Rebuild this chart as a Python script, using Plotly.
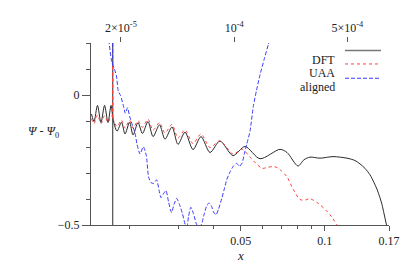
import plotly.graph_objects as go

# ---------------- data ----------------
# DFT (black solid)
dft_left_x = [0.01459, 0.01490, 0.01533, 0.01578, 0.01625, 0.01672, 0.01714, 0.01739]
dft_left_y = [-0.073, -0.102, -0.040, -0.106, -0.040, -0.106, -0.040, -0.088]
dft_jump_x = [0.01739, 0.01739]
dft_jump_y = [0.30, -0.60]
dft_x = [0.01739, 0.01801, 0.01869, 0.01924, 0.01998, 0.02056, 0.02142, 0.02222, 0.02326, 0.02425,
         0.02558, 0.02676, 0.02836, 0.02979, 0.03157, 0.03373, 0.03603, 0.03880, 0.04214, 0.04691,
         0.05180, 0.05862, 0.06914, 0.07325, 0.08020, 0.08427, 0.08856, 0.09617, 0.1071, 0.1202,
         0.1284, 0.1338, 0.1394, 0.1453, 0.1502, 0.1539, 0.1578, 0.1604, 0.1632, 0.1666]
dft_y = [-0.088, -0.139, -0.105, -0.150, -0.105, -0.154, -0.106, -0.148, -0.102, -0.160,
         -0.115, -0.170, -0.123, -0.190, -0.143, -0.210, -0.160, -0.221, -0.177, -0.233,
         -0.198, -0.245, -0.209, -0.221, -0.273, -0.249, -0.239, -0.243, -0.237, -0.243,
         -0.252, -0.265, -0.282, -0.307, -0.337, -0.362, -0.395, -0.421, -0.457, -0.501]

# UAA (red dotted)
uaa_left_x = [0.01459, 0.01490, 0.01533, 0.01578, 0.01625, 0.01672, 0.01714, 0.01739]
uaa_left_y = [-0.091, -0.110, -0.077, -0.110, -0.080, -0.106, -0.080, -0.085]
uaa_jump_x = [0.01739, 0.01739, 0.01739]
uaa_jump_y = [-0.085, 0.115, -0.088]
uaa_x = [0.01739, 0.01801, 0.01869, 0.01924, 0.01998, 0.02056, 0.02142, 0.02222, 0.02326, 0.02425,
         0.02558, 0.02676, 0.02836, 0.02979, 0.03157, 0.03373, 0.03603, 0.03880, 0.04214, 0.04691,
         0.05053, 0.05398, 0.05672, 0.05960, 0.06261, 0.06579, 0.06857, 0.07325, 0.07696, 0.08154,
         0.08497, 0.08856, 0.09459, 0.1016, 0.1061, 0.1107]
uaa_y = [-0.088, -0.121, -0.097, -0.128, -0.097, -0.128, -0.099, -0.124, -0.093, -0.135,
         -0.106, -0.146, -0.113, -0.165, -0.134, -0.187, -0.150, -0.202, -0.176, -0.227,
         -0.209, -0.239, -0.263, -0.282, -0.278, -0.275, -0.284, -0.315, -0.361, -0.402,
         -0.404, -0.399, -0.416, -0.446, -0.470, -0.501]

# aligned (blue dashed)
aln_jump_x = [0.01739, 0.01739]
aln_jump_y = [0.115, 0.30]
aln_x = [0.01683, 0.01724, 0.01764, 0.01793, 0.01820, 0.01854, 0.01897, 0.01929, 0.01964, 0.01998,
         0.02056, 0.02090, 0.02125, 0.02178, 0.02238, 0.02295, 0.02336, 0.02385, 0.02435, 0.02496,
         0.02548, 0.02590, 0.02643, 0.02698, 0.02755, 0.02824, 0.02883, 0.02948, 0.03016, 0.03092,
         0.03170, 0.03210, 0.03249, 0.03312, 0.03387, 0.03472, 0.03544, 0.03618, 0.03692, 0.03770,
         0.03848, 0.03929, 0.03994, 0.04078, 0.04162, 0.04273, 0.04374, 0.04454, 0.04577, 0.04703,
         0.04836, 0.04949, 0.05053, 0.05159, 0.05253, 0.05398, 0.05547, 0.05695, 0.05862, 0.06059,
         0.06277, 0.06355]
aln_y = [0.212, 0.128, 0.099, 0.073, 0.015, -0.002, -0.040, -0.070, -0.049, -0.081,
         -0.124, -0.146, -0.190, -0.227, -0.199, -0.234, -0.315, -0.337, -0.340, -0.326,
         -0.366, -0.395, -0.380, -0.368, -0.410, -0.452, -0.421, -0.398, -0.421, -0.457,
         -0.501, -0.505, -0.468, -0.432, -0.457, -0.497, -0.508, -0.497, -0.461, -0.428,
         -0.415, -0.428, -0.450, -0.461, -0.439, -0.399, -0.358, -0.326, -0.296, -0.274,
         -0.263, -0.274, -0.263, -0.223, -0.190, -0.139, -0.044, 0.018, 0.077, 0.135,
         0.194, 0.216]

# axes ticks
x_major = [0.05, 0.1, 0.17]
x_major_text = ["0.05", "0.1", "0.17"]
x_minor = [0.02, 0.03, 0.04, 0.06, 0.07, 0.08, 0.09]
y_major = [0, -0.5]
y_major_text = ["0", "\u22120.5"]
y_minor = [0.2, 0.1, -0.1, -0.2, -0.3, -0.4]
top_ticks = [2e-5, 1e-4, 5e-4]
top_text = ["2\u00d710<sup>-5</sup>", "10<sup>-4</sup>", "5\u00d710<sup>-4</sup>"]

series_names = ["DFT", "UAA", "aligned"]

# ---------------- styles ----------------
C_DFT = "#2b2b2b"
C_UAA = "#ff4040"
C_ALN = "#3a3aff"
FONT = "Liberation Serif, Times New Roman, serif"
FS = 12
AX = "#555555"

# the page body has an 8px margin; plot area should be at x 91..389, y 34..225
W, H = 407, 269
ML, MR, MT, MB = 83, 26, 26, 52
PX0, PY0 = 8 + ML, 8 + MT          # plot-area origin in page pixels
PW, PH = W - ML - MR, H - MT - MB


def px(xp):
    return (xp - PX0) / PW


def py(yp):
    return (PY0 + PH - yp) / PH


fig = go.Figure()


def add(x, y, color, dash, shape="linear", smooth=None, width=1.0):
    line = dict(color=color, width=width, dash=dash, shape=shape)
    if smooth is not None:
        line["smoothing"] = smooth
    fig.add_trace(go.Scatter(x=x, y=y, mode="lines", line=line,
                             showlegend=False, hoverinfo="skip"))


# DFT
add(dft_jump_x, dft_jump_y, C_DFT, "solid")
add(dft_left_x, dft_left_y, C_DFT, "solid", "spline", 0.8)
add(dft_x, dft_y, C_DFT, "solid", "spline", 0.8)
# UAA
add(uaa_left_x, uaa_left_y, C_UAA, "dot", "spline", 0.8)
add(uaa_jump_x, uaa_jump_y, C_UAA, "dot")
add(uaa_x, uaa_y, C_UAA, "dot", "spline", 0.8)
# aligned
add(aln_jump_x, aln_jump_y, C_ALN, "4px,2px")
add(aln_x, aln_y, C_ALN, "4px,2px", "spline", 0.6)

# invisible trace for top axis
fig.add_trace(go.Scatter(x=top_ticks, y=[None] * len(top_ticks), xaxis="x2", mode="lines",
                         showlegend=False, hoverinfo="skip"))

tf = dict(family=FONT, size=FS, color="#222222")
fig.update_layout(
    width=W, height=H,
    margin=dict(l=ML, r=MR, t=MT, b=MB),
    paper_bgcolor="white", plot_bgcolor="white",
    font=tf,
    showlegend=False,
    xaxis=dict(type="log", range=[-1.8377, -0.7696], showgrid=False, zeroline=False,
               showline=True, linecolor=AX, linewidth=1, tickfont=tf,
               tickmode="array", tickvals=x_major, ticktext=x_major_text,
               ticks="outside", ticklen=5, tickcolor=AX, tickwidth=1,
               minor=dict(tickmode="array", tickvals=x_minor, ticks="outside",
                          ticklen=3, tickcolor=AX, tickwidth=1, showgrid=False)),
    xaxis2=dict(type="log", range=[-4.884, -3.044], overlaying="x", side="top", anchor="y",
                showgrid=False, zeroline=False, showline=False, tickfont=tf,
                tickmode="array", tickvals=top_ticks, ticktext=top_text,
                ticks="outside", ticklen=5, tickcolor=AX, tickwidth=1),
    yaxis=dict(range=[-0.5, 0.2], showgrid=False, zeroline=False,
               showline=True, linecolor=AX, linewidth=1, tickfont=tf,
               tickmode="array", tickvals=y_major, ticktext=y_major_text,
               ticks="outside", ticklen=8, tickcolor=AX, tickwidth=1,
               minor=dict(tickmode="array", tickvals=y_minor, ticks="outside",
                          ticklen=4, tickcolor=AX, tickwidth=1, showgrid=False)),
)

# axis titles
fig.add_annotation(xref="paper", yref="paper", x=px(240), y=py(267),
                   text="<i>x</i>", showarrow=False, font=dict(family=FONT, size=13))
fig.add_annotation(xref="paper", yref="paper", x=px(26), y=py(127),
                   text="<i>\u03a8</i> - <i>\u03a8</i><sub>0</sub>", showarrow=False,
                   font=tf)

# legend (manual: text right-aligned, sample line on the right)
leg_y = [py(42), py(56), py(71)]
leg_style = [("#777777", "solid", 1.5), (C_UAA, "dot", 1.0), (C_ALN, "4px,2px", 1.0)]
for name, yy, (c, d, w) in zip(series_names, leg_y, leg_style):
    fig.add_annotation(xref="paper", yref="paper", x=px(337), y=yy, xanchor="right",
                       text=name, showarrow=False, font=tf)
    fig.add_shape(type="line", xref="paper", yref="paper", x0=px(345), x1=px(381),
                  y0=yy, y1=yy, line=dict(color=c, dash=d, width=w))

fig.write_html("out.html")
